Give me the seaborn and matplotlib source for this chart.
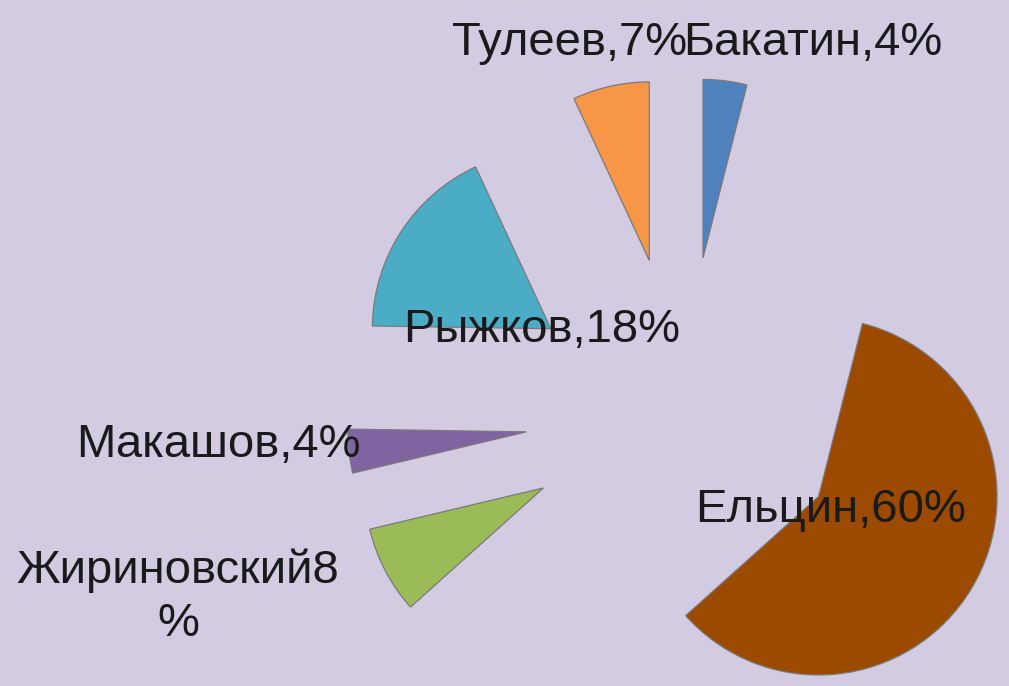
import matplotlib
matplotlib.use("Agg")
import matplotlib.pyplot as plt
import seaborn as sns

# Presidential vote shares, clockwise from 12 o'clock
candidates = ['Бакатин', 'Ельцин', 'Жириновский', 'Макашов', 'Рыжков', 'Тулеев']
shares = [4, 60, 8, 4, 18, 7]
label_texts = ['Бакатин,4%', 'Ельцин,60%', 'Жириновский8\n%', 'Макашов,4%',
               'Рыжков,18%', 'Тулеев,7%']
slice_colors = ['#4F81BD', '#9C4A00', '#9BBB59', '#8064A2', '#4BACC6', '#F79646']

# label anchor points in pixels (x centre, baseline y of the last line from the top)
label_px = [(813, 55), (831, 522), (178, 636), (218, 457), (542, 342), (570, 55)]

W, H = 1009, 686
BG = '#D3CBE1'

sns.set_style('white', rc={'axes.facecolor': BG, 'figure.facecolor': BG})
plt.rcParams['font.family'] = ['Liberation Sans', 'DejaVu Sans']

fig = plt.figure(figsize=(W / 100, H / 100), dpi=100)
fig.patch.set_facecolor(BG)
ax = fig.add_axes([0, 0, 1, 1])

ax.pie(shares, colors=slice_colors, startangle=90, counterclock=False,
       explode=[0.885] * len(shares), radius=1.0,
       wedgeprops=dict(edgecolor='#7A7A7A', linewidth=0.9))

# place the pie centre and size it on the canvas
scale = 178.5
cx, cy = 683.4, H - 414.7
ax.set_xlim(-cx / scale, (W - cx) / scale)
ax.set_ylim(-cy / scale, (H - cy) / scale)
ax.set_aspect('auto')
ax.axis('off')

for txt, (px, py) in zip(label_texts, label_px):
    ax.text(px / W, 1 - py / H, txt, transform=ax.transAxes,
            ha='center', va='baseline', multialignment='center',
            fontsize=34, color='#1A1A1A', linespacing=1.26)

fig.savefig('out.png', dpi=100, facecolor=BG)
